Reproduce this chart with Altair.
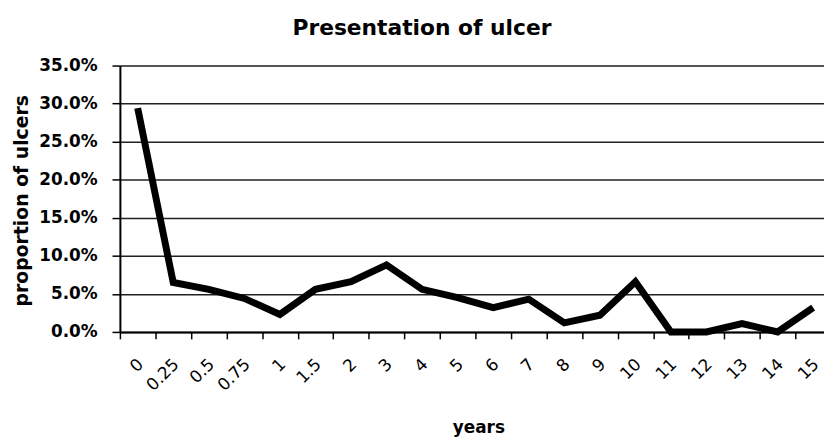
import altair as alt
import pandas as pd

years = ["0", "0.25", "0.5", "0.75", "1", "1.5", "2", "3", "4", "5",
         "6", "7", "8", "9", "10", "11", "12", "13", "14", "15"]
proportion = [0.294, 0.065, 0.056, 0.044, 0.023, 0.056, 0.066, 0.088, 0.056, 0.045,
              0.032, 0.043, 0.012, 0.022, 0.066, 0.0, 0.0, 0.011, 0.0, 0.032]
y_ticks = [0, 0.05, 0.10, 0.15, 0.20, 0.25, 0.30, 0.35]

df = pd.DataFrame({"years": years, "proportion": proportion})

FONT = "DejaVu Sans"

line = alt.Chart(df).mark_line(
    color="black", strokeWidth=7, strokeJoin="miter", strokeCap="butt"
).encode(
    x=alt.X("years:N", sort=years, scale=alt.Scale(paddingInner=0, paddingOuter=0),
            axis=alt.Axis(title="years", labelAngle=-45, labelAlign="right", labelBaseline="top",
                          labelFont=FONT, labelFontSize=17, labelColor="black",
                          labelPadding=17, labelOffset=-3, tickSize=7, tickColor="black",
                          tickWidth=1.5, tickBand="extent", domainColor="black",
                          domainWidth=2,
                          titleFont=FONT, titleFontSize=17, titleFontWeight="bold",
                          titleColor="black", titleX=362, titleY=89, titleBaseline="top",
                          grid=False)),
    y=alt.Y("proportion:Q", scale=alt.Scale(domain=[0, 0.35], nice=False),
            axis=alt.Axis(title="proportion of ulcers", values=y_ticks, format=".1%",
                          labelFont=FONT, labelFontSize=17, labelFontWeight="bold",
                          labelColor="black", labelPadding=15, tickSize=8,
                          tickColor="black", tickWidth=1.5, domainColor="black",
                          domainWidth=2, gridColor="#222222", gridWidth=1.6,
                          gridOpacity=1,
                          titleFont=FONT, titleFontSize=19, titleFontWeight="bold",
                          titleColor="black", titleX=-89, titleY=136)),
)

chart = line.properties(
    width=718, height=269,
    title=alt.TitleParams("Presentation of ulcer", font=FONT, fontSize=22,
                          fontWeight="bold", color="black", anchor="middle",
                          dx=-54, offset=17),
    autosize=alt.AutoSizeParams(type="none"),
    padding={"left": 113, "top": 56, "right": -7, "bottom": 106},
).configure_view(stroke=None).configure(background="white")

chart.save("out.html", embed_options={"renderer": "svg", "actions": False})
